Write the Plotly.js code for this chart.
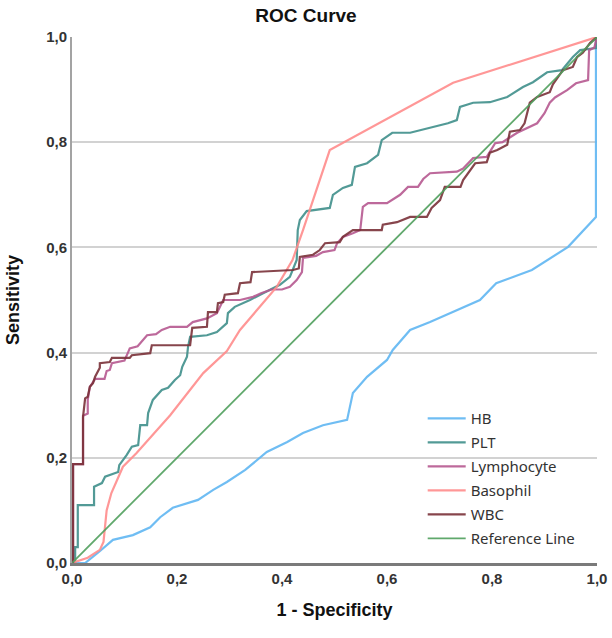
<!DOCTYPE html>
<html>
<head>
<meta charset="utf-8">
<script src="https://cdn.plot.ly/plotly-3.0.1.min.js"></script>
<style>
  html, body { margin: 0; padding: 0; background: #ffffff; }
  #chart { width: 612px; height: 638px; }
</style>
</head>
<body>
<div id="chart"></div>
<script>
// ROC curves: 1 - specificity (x) against sensitivity (y) for each marker
const hbX = [0, 0.025, 0.05, 0.078, 0.116, 0.149, 0.168, 0.192, 0.24, 0.269, 0.295, 0.33, 0.371, 0.41, 0.44, 0.478, 0.524, 0.535, 0.562, 0.6, 0.611, 0.644, 0.682, 0.777, 0.808, 0.876, 0.945, 0.971, 0.998, 0.998];
const hbY = [0, 0, 0.02, 0.044, 0.053, 0.068, 0.087, 0.105, 0.12, 0.139, 0.154, 0.177, 0.211, 0.23, 0.247, 0.262, 0.272, 0.323, 0.354, 0.386, 0.405, 0.443, 0.458, 0.5, 0.532, 0.557, 0.601, 0.629, 0.658, 1];

const pltX = [0, 0.006, 0.006, 0.011, 0.011, 0.042, 0.042, 0.057, 0.063, 0.088, 0.09, 0.104, 0.114, 0.126, 0.13, 0.143, 0.145, 0.154, 0.171, 0.183, 0.196, 0.206, 0.21, 0.219, 0.221, 0.225, 0.257, 0.276, 0.295, 0.297, 0.31, 0.339, 0.364, 0.396, 0.415, 0.428, 0.43, 0.434, 0.447, 0.491, 0.497, 0.516, 0.533, 0.539, 0.562, 0.583, 0.59, 0.61, 0.644, 0.663, 0.688, 0.716, 0.733, 0.739, 0.764, 0.796, 0.829, 0.859, 0.878, 0.905, 0.933, 0.954, 0.968, 0.998, 0.998];
const pltY = [0, 0, 0.03, 0.03, 0.11, 0.11, 0.145, 0.152, 0.164, 0.173, 0.186, 0.205, 0.221, 0.224, 0.262, 0.262, 0.285, 0.31, 0.329, 0.333, 0.348, 0.357, 0.373, 0.392, 0.411, 0.43, 0.433, 0.439, 0.456, 0.475, 0.487, 0.5, 0.513, 0.529, 0.544, 0.576, 0.633, 0.652, 0.669, 0.675, 0.7, 0.713, 0.719, 0.753, 0.76, 0.776, 0.804, 0.818, 0.818, 0.823, 0.829, 0.836, 0.842, 0.867, 0.875, 0.876, 0.886, 0.905, 0.914, 0.933, 0.937, 0.962, 0.975, 0.979, 1];

const lymX = [0, 0.002, 0.002, 0.021, 0.021, 0.03, 0.03, 0.034, 0.044, 0.062, 0.066, 0.072, 0.076, 0.1, 0.107, 0.11, 0.125, 0.135, 0.143, 0.16, 0.171, 0.187, 0.219, 0.23, 0.257, 0.276, 0.288, 0.32, 0.345, 0.36, 0.38, 0.4, 0.415, 0.428, 0.438, 0.44, 0.465, 0.478, 0.5, 0.505, 0.516, 0.535, 0.549, 0.554, 0.564, 0.6, 0.61, 0.625, 0.64, 0.659, 0.669, 0.682, 0.733, 0.745, 0.764, 0.79, 0.806, 0.82, 0.848, 0.865, 0.886, 0.9, 0.91, 0.92, 0.943, 0.96, 0.983, 0.985, 0.995, 1];
const lymY = [0, 0, 0.188, 0.188, 0.28, 0.284, 0.31, 0.335, 0.35, 0.35, 0.365, 0.367, 0.38, 0.385, 0.401, 0.408, 0.412, 0.424, 0.433, 0.435, 0.443, 0.449, 0.449, 0.458, 0.465, 0.475, 0.5, 0.5, 0.506, 0.513, 0.52, 0.52, 0.525, 0.538, 0.553, 0.58, 0.584, 0.591, 0.595, 0.608, 0.62, 0.627, 0.633, 0.677, 0.684, 0.684, 0.69, 0.7, 0.715, 0.715, 0.73, 0.741, 0.744, 0.75, 0.77, 0.772, 0.798, 0.8, 0.818, 0.826, 0.836, 0.855, 0.875, 0.885, 0.899, 0.912, 0.918, 0.975, 0.98, 1];

const basX = [0, 0.03, 0.053, 0.06, 0.066, 0.075, 0.097, 0.123, 0.187, 0.25, 0.295, 0.32, 0.39, 0.42, 0.44, 0.491, 0.726, 1];
const basY = [0, 0.01, 0.025, 0.04, 0.1, 0.133, 0.183, 0.209, 0.281, 0.361, 0.403, 0.443, 0.525, 0.576, 0.633, 0.785, 0.913, 1];

const wbcX = [0, 0.002, 0.002, 0.021, 0.021, 0.025, 0.03, 0.034, 0.04, 0.044, 0.053, 0.053, 0.072, 0.076, 0.11, 0.114, 0.149, 0.152, 0.225, 0.229, 0.257, 0.259, 0.276, 0.278, 0.288, 0.291, 0.316, 0.32, 0.34, 0.343, 0.421, 0.432, 0.434, 0.459, 0.472, 0.482, 0.51, 0.516, 0.535, 0.59, 0.592, 0.619, 0.644, 0.676, 0.685, 0.701, 0.71, 0.74, 0.745, 0.758, 0.768, 0.79, 0.796, 0.81, 0.829, 0.834, 0.853, 0.862, 0.872, 0.886, 0.91, 0.916, 0.935, 0.954, 0.962, 0.973, 0.987, 1];
const wbcY = [0, 0, 0.188, 0.188, 0.278, 0.313, 0.316, 0.335, 0.342, 0.354, 0.371, 0.38, 0.382, 0.39, 0.39, 0.395, 0.399, 0.414, 0.414, 0.447, 0.449, 0.477, 0.477, 0.494, 0.496, 0.51, 0.513, 0.532, 0.534, 0.553, 0.557, 0.56, 0.582, 0.586, 0.595, 0.608, 0.61, 0.62, 0.633, 0.633, 0.643, 0.648, 0.658, 0.658, 0.675, 0.69, 0.715, 0.715, 0.728, 0.747, 0.76, 0.762, 0.78, 0.785, 0.795, 0.82, 0.823, 0.836, 0.875, 0.886, 0.895, 0.91, 0.937, 0.943, 0.962, 0.97, 0.989, 1];

const refX = [0, 1];
const refY = [0, 1];

const tickVals = [0, 0.2, 0.4, 0.6, 0.8, 1.0];
const tickText = ['0,0', '0,2', '0,4', '0,6', '0,8', '1,0'];

function curve(name, x, y, color, width) {
  return {
    type: 'scatter', mode: 'lines', name: name, x: x, y: y,
    legendgroup: name,
    line: { color: color, width: width, shape: 'linear' },
    opacity: 0.9, hoverinfo: 'x+y+name'
  };
}

const traces = [
  curve('HB', hbX, hbY, '#5fb6f2', 2.2),
  curve('PLT', pltX, pltY, '#3f8f8b', 2.2),
  curve('Lymphocyte', lymX, lymY, '#b65990', 2.2),
  curve('Basophil', basX, basY, '#ff8c8c', 2.2),
  curve('WBC', wbcX, wbcY, '#7a3139', 2.2),
  curve('Reference Line', refX, refY, '#4f9e5c', 1.8)
];

const tickFont = { size: 15, color: '#333', family: 'Liberation Sans, Arial, sans-serif', weight: 'bold' };

const layout = {
  width: 612, height: 638,
  margin: { l: 72, r: 15, t: 37, b: 75 },
  paper_bgcolor: '#ffffff', plot_bgcolor: '#ffffff',
  font: { family: 'Liberation Sans, Arial, sans-serif', color: '#222' },
  title: {
    text: '<b>ROC Curve</b>',
    font: { size: 19, color: '#111' },
    x: 0.5, xanchor: 'center', y: 0.976, yanchor: 'middle'
  },
  showlegend: true,
  legend: {
    x: 0.668, y: 0.306, xanchor: 'left', yanchor: 'top',
    bgcolor: 'rgba(0,0,0,0)', borderwidth: 0,
    font: { family: 'Noto Sans, sans-serif', size: 15, color: '#333' },
    traceorder: 'grouped', tracegroupgap: 1.5,
    itemwidth: 38
  },
  xaxis: {
    range: [0, 1], tickvals: tickVals, ticktext: tickText,
    showgrid: false, zeroline: false,
    showline: true, linecolor: '#7a7a7a', linewidth: 2.5,
    ticks: '', tickfont: tickFont,
    title: { text: '<b>1 - Specificity</b>', font: { size: 18, color: '#111' }, standoff: 18 },
    fixedrange: true
  },
  yaxis: {
    range: [0, 1], tickvals: tickVals, ticktext: tickText,
    showgrid: true, gridcolor: '#d2d2d2', gridwidth: 2,
    zeroline: false,
    showline: true, linecolor: '#a3a3a3', linewidth: 2,
    ticks: '', tickfont: tickFont,
    title: { text: '<b>Sensitivity</b>', font: { size: 18, color: '#111' }, standoff: 22 },
    fixedrange: true
  }
};

Plotly.newPlot('chart', traces, layout, { displayModeBar: false, staticPlot: true });
</script>
</body>
</html>
